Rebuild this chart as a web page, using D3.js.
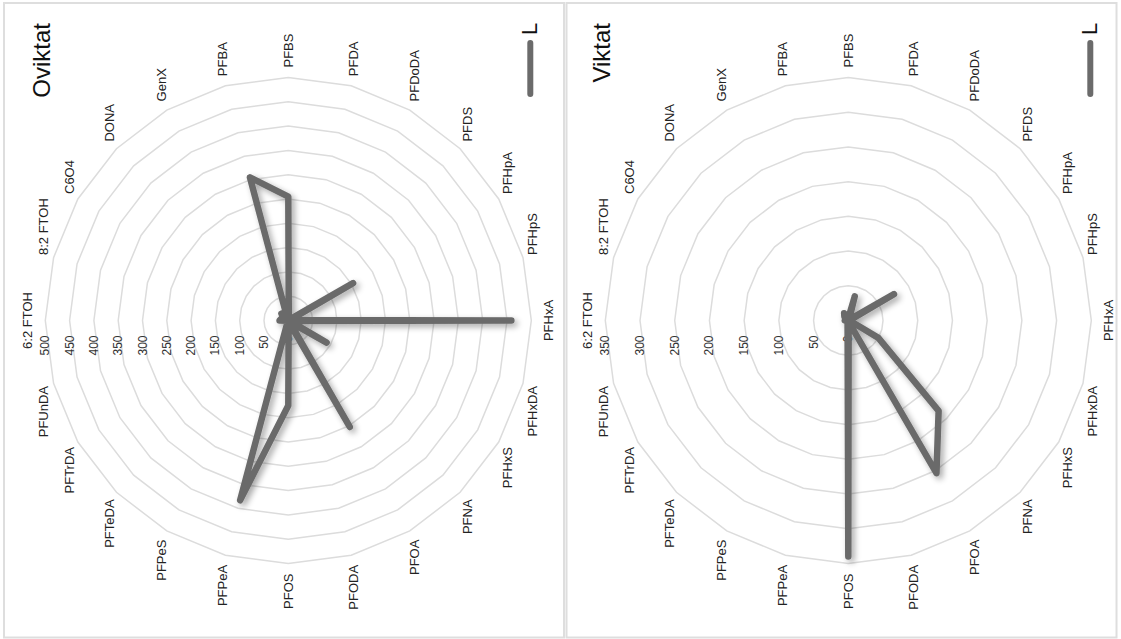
<!DOCTYPE html>
<html>
<head>
<meta charset="utf-8">
<script src="https://cdn.jsdelivr.net/npm/d3@7"></script>
<style>
  html, body { margin: 0; padding: 0; background: #fff; }
  svg { display: block; font-family: "Liberation Sans", Arial, sans-serif; }
</style>
</head>
<body>
<svg id="chart" width="1121" height="639"></svg>
<script>
// PFAS compounds, one spoke each, in alphabetical order
const categories = [
  "6:2 FTOH", "8:2 FTOH", "C6O4", "DONA", "GenX", "PFBA", "PFBS", "PFDA",
  "PFDoDA", "PFDS", "PFHpA", "PFHpS", "PFHxA", "PFHxDA", "PFHxS", "PFNA",
  "PFOA", "PFODA", "PFOS", "PFPeA", "PFPeS", "PFTeDA", "PFTrDA", "PFUnDA"
];

// Unweighted sums
const oviktatValues = [
  18, 15, 12, 20, 3, 305, 255, 4,
  3, 2, 154, 3, 459, 3, 91, 4,
  253, 3, 175, 383, 3, 2, 2, 3
];

// Weighted sums
const viktatValues = [
  5, 3, 5, 8, 12, 4, 3, 36,
  3, 2, 76, 3, 4, 3, 50, 184,
  254, 2, 340, 4, 3, 2, 2, 3
];

const oviktatTicks = [0, 50, 100, 150, 200, 250, 300, 350, 400, 450, 500];
const viktatTicks = [0, 50, 100, 150, 200, 250, 300, 350];

const panelTitles = ["Oviktat", "Viktat"];
const seriesLabel = "L";

const panels = [
  { title: panelTitles[0], values: oviktatValues, ticks: oviktatTicks,
    cx: 288.3, cy: 320.5, frame: [4, 3, 560, 634.5] },
  { title: panelTitles[1], values: viktatValues, ticks: viktatTicks,
    cx: 848.3, cy: 320.5, frame: [566.5, 3, 550, 634.5] }
];

const R = 243;
const lineColor = "#6b6b6b";
const svg = d3.select("#chart");

// soft drop shadow under the data line
const defs = svg.append("defs");
const f = defs.append("filter").attr("id", "shadow")
  .attr("x", "-20%").attr("y", "-20%").attr("width", "140%").attr("height", "140%");
f.append("feGaussianBlur").attr("in", "SourceAlpha").attr("stdDeviation", 3).attr("result", "blur");
f.append("feOffset").attr("in", "blur").attr("dx", 3).attr("dy", 3).attr("result", "off");
f.append("feComponentTransfer").attr("in", "off").attr("result", "shade")
  .append("feFuncA").attr("type", "linear").attr("slope", 0.35);
const merge = f.append("feMerge");
merge.append("feMergeNode").attr("in", "shade");
merge.append("feMergeNode").attr("in", "SourceGraphic");

const angle = d3.scaleLinear().domain([0, categories.length]).range([0, 2 * Math.PI]);

panels.forEach(p => {
  // panel frame
  svg.append("rect")
    .attr("x", p.frame[0]).attr("y", p.frame[1])
    .attr("width", p.frame[2]).attr("height", p.frame[3])
    .attr("fill", "none").attr("stroke", "#dedede").attr("stroke-width", 2);

  const maxTick = p.ticks[p.ticks.length - 1];
  const r = d3.scaleLinear().domain([0, maxTick]).range([0, R]);

  // chart drawn upright, then turned a quarter turn counter-clockwise
  const g = svg.append("g")
    .attr("transform", `translate(${p.cx},${p.cy}) rotate(-90)`);

  // concentric grid polygons
  const ring = d3.lineRadial()
    .angle((d, i) => angle(i))
    .radius(d => r(d))
    .curve(d3.curveLinearClosed);

  g.append("g").selectAll("path")
    .data(p.ticks.filter(t => t > 0))
    .join("path")
    .attr("d", t => ring(categories.map(() => t)))
    .attr("fill", "none")
    .attr("stroke", "#dcdcdc")
    .attr("stroke-width", 1.5);

  // radial tick labels
  g.append("g").selectAll("text")
    .data(p.ticks)
    .join("text")
    .attr("x", -15)
    .attr("y", t => -r(t))
    .attr("text-anchor", "end")
    .attr("dominant-baseline", "central")
    .attr("font-size", 12)
    .attr("fill", "#333")
    .text(t => t);

  // compound labels around the rim
  const labelR = R + 10;
  g.append("g").selectAll("text")
    .data(categories)
    .join("text")
    .each(function (name, i) {
      const deg = i * 360 / categories.length;
      const a = angle(i);
      const x = Math.sin(a) * labelR;
      const y = -Math.cos(a) * labelR;
      let anchor = "middle";
      if (deg > 0 && deg < 180) anchor = "start";
      else if (deg > 180) anchor = "end";
      let base = "central";
      if (deg === 0) base = "text-after-edge";
      else if (deg === 180) base = "text-before-edge";
      d3.select(this)
        .attr("x", x).attr("y", y)
        .attr("text-anchor", anchor)
        .attr("dominant-baseline", base)
        .attr("font-size", 13)
        .attr("fill", "#222")
        .text(name);
    });

  // data line with shadow (filter applied in page space)
  const wrap = svg.append("g").attr("filter", "url(#shadow)");
  const gl = wrap.append("g")
    .attr("transform", `translate(${p.cx},${p.cy}) rotate(-90)`);
  const line = d3.lineRadial()
    .angle((d, i) => angle(i))
    .radius(d => r(d))
    .curve(d3.curveLinearClosed);
  gl.append("path")
    .attr("d", line(p.values))
    .attr("fill", "none")
    .attr("stroke", lineColor)
    .attr("stroke-width", 6.5)
    .attr("stroke-linejoin", "round")
    .attr("stroke-linecap", "round");

  // title
  g.append("text")
    .attr("x", 297.5).attr("y", -238.3)
    .attr("text-anchor", "end")
    .attr("font-size", 24)
    .attr("fill", "#111")
    .text(p.title);

  // legend
  g.append("line")
    .attr("x1", 226.5).attr("x2", 277.5)
    .attr("y1", 242).attr("y2", 242)
    .attr("stroke", lineColor)
    .attr("stroke-width", 6)
    .attr("stroke-linecap", "round");
  g.append("text")
    .attr("x", 285.5).attr("y", 248.7)
    .attr("font-size", 22)
    .attr("fill", "#111")
    .text(seriesLabel);
});
</script>
</body>
</html>
